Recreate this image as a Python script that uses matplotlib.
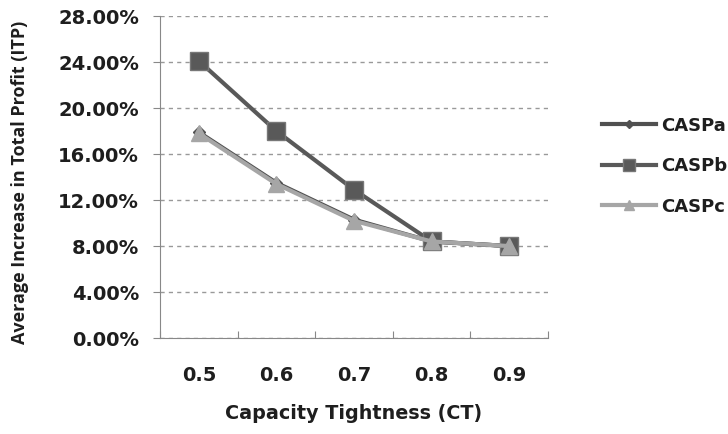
import matplotlib
matplotlib.use("Agg")
import matplotlib.pyplot as plt
from matplotlib.ticker import FuncFormatter

categories = ["0.5", "0.6", "0.7", "0.8", "0.9"]
caspa = [17.9, 13.5, 10.3, 8.4, 8.0]
caspb = [24.1, 18.0, 12.9, 8.4, 8.0]
caspc = [17.8, 13.4, 10.2, 8.4, 8.0]
yticks = [0, 4, 8, 12, 16, 20, 24, 28]

plt.rcParams['font.family'] = ['DejaVu Sans']
TXT = '#1e1e1e'

fig = plt.figure(figsize=(7.28, 4.34), dpi=100)
ax = fig.add_axes([0.2198, 0.221, 0.533, 0.742])

x = list(range(len(categories)))
ax.plot(x, caspa, color="#505050", lw=3, marker="D", ms=6, label="CASPa", zorder=3)
ax.plot(x, caspb, color="#595959", lw=3, marker="s", ms=13, mec="#777777", mew=1, label="CASPb", zorder=4)
ax.plot(x, caspc, color="#a6a6a6", lw=3, marker="^", ms=11, label="CASPc", zorder=5)

ax.set_xlim(-0.5, 4.5)
ax.set_ylim(0, 28)
ax.set_yticks(yticks)
ax.yaxis.set_major_formatter(FuncFormatter(lambda v, p: f"{v:.2f}%"))
ax.set_xticks([i + 0.5 for i in range(-1, 5)], minor=False)
ax.set_xticklabels([])
ax.set_xticks(x, minor=True)
ax.set_xticklabels(categories, minor=True)
ax.tick_params(axis='x', which='minor', length=0, pad=20, labelsize=14)
ax.tick_params(axis='x', which='major', length=5, direction='in', color="#888888")
ax.tick_params(axis='y', length=5, direction='out', color="#888888", labelsize=14, pad=10)
for lbl in ax.get_xticklabels(minor=True) + ax.get_yticklabels():
    lbl.set_fontweight('bold')
    lbl.set_color(TXT)

ax.grid(axis='y', color="#999999", ls=(0, (3, 3)), lw=1)
ax.set_axisbelow(True)
for s in ['top', 'right']:
    ax.spines[s].set_visible(False)
ax.spines['left'].set_color('#888888')
ax.spines['bottom'].set_color('#888888')

ax.set_xlabel("Capacity Tightness (CT)", fontsize=13.8, fontweight='bold', labelpad=14, color=TXT)
ax.set_ylabel("Average Increase in Total Profit (ITP)", fontsize=13, fontweight='bold',
              color=TXT, family=['Open Sans', 'DejaVu Sans'])
ax.yaxis.set_label_coords(-0.338, 0.484)

leg = ax.legend(loc='center left', bbox_to_anchor=(1.139, 0.534), frameon=False,
                prop={'weight': 'bold', 'size': 13}, handlelength=3.0, handletextpad=0.3,
                labelspacing=1.25, markerscale=0.7, borderpad=0, borderaxespad=0)
for t in leg.get_texts():
    t.set_color(TXT)

fig.savefig("out.png", dpi=100)
